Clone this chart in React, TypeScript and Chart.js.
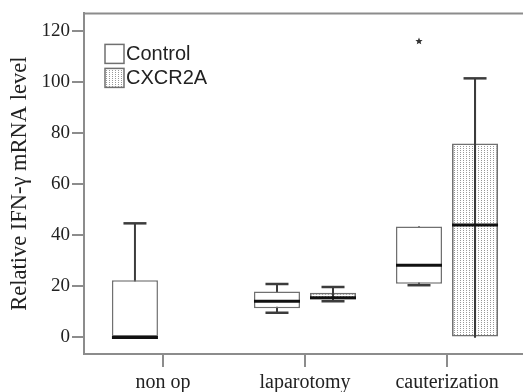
import { useEffect, useRef } from 'react';
import { Chart, registerables } from 'chart.js';

Chart.register(...registerables);

// ---- data ----
const categories = ['non op', 'laparotomy', 'cauterization'];
const categoryPositions = [1, 2, 3];
const seriesNames = ['Control', 'CXCR2A'];

const controlLower = [0, 9.6, 20.4];
const controlQ1 = [0, 11.4, 21.0];
const controlMedian = [0, 14.1, 28.2];
const controlQ3 = [22.3, 17.9, 43.4];
const controlUpper = [44.6, 20.9, 43.4];
const controlOutliers = [[], [], [115.8]];

const cxcrLower = [null, 14.1, 0];
const cxcrQ1 = [null, 14.8, 0];
const cxcrMedian = [null, 15.5, 43.9];
const cxcrQ3 = [null, 17.5, 75.8];
const cxcrUpper = [null, 19.7, 101.3];
const cxcrOutliers = [[], [], []];

const yTickValues = [0, 20, 40, 60, 80, 100, 120];

type Stats = {
  lower: (number | null)[];
  q1: (number | null)[];
  median: (number | null)[];
  q3: (number | null)[];
  upper: (number | null)[];
  outliers: number[][];
};

const seriesStats: Stats[] = [
  { lower: controlLower, q1: controlQ1, median: controlMedian, q3: controlQ3, upper: controlUpper, outliers: controlOutliers },
  { lower: cxcrLower, q1: cxcrQ1, median: cxcrMedian, q3: cxcrQ3, upper: cxcrUpper, outliers: cxcrOutliers },
];

const AXIS = '#8c8c8c';
const BOX_BORDER = '#707070';
const WHISKER = '#3c3c3c';
const TEXT = '#222222';

function makePattern(): CanvasPattern | string {
  const tile = document.createElement('canvas');
  tile.width = 3;
  tile.height = 2;
  const c = tile.getContext('2d');
  if (!c) return '#dddddd';
  c.fillStyle = 'rgba(110,110,110,0.7)';
  c.fillRect(1, 0, 1, 1);
  const main = document.createElement('canvas').getContext('2d');
  const p = main ? main.createPattern(tile, 'repeat') : null;
  return p || '#dddddd';
}

function drawStar(ctx: CanvasRenderingContext2D, cx: number, cy: number, r: number) {
  ctx.beginPath();
  for (let k = 0; k < 10; k++) {
    const rad = k % 2 === 0 ? r : r * 0.45;
    const a = -Math.PI / 2 + (k * Math.PI) / 5;
    const px = cx + rad * Math.cos(a);
    const py = cy + rad * Math.sin(a);
    if (k === 0) ctx.moveTo(px, py);
    else ctx.lineTo(px, py);
  }
  ctx.closePath();
  ctx.fill();
}

export default function App() {
  const ref = useRef<HTMLCanvasElement | null>(null);

  useEffect(() => {
    if (!ref.current) return;
    const pattern = makePattern();
    const fills = ['#ffffff', pattern];

    const boxPlugin = {
      id: 'boxExtras',
      beforeDraw(chart: any) {
        const { ctx, chartArea } = chart;
        ctx.save();
        ctx.strokeStyle = AXIS;
        ctx.lineWidth = 2;
        ctx.beginPath();
        ctx.moveTo(chartArea.left - 1, chartArea.top);
        ctx.lineTo(chartArea.right + 2, chartArea.top);
        ctx.stroke();
        ctx.restore();
      },
      beforeDatasetsDraw(chart: any) {
        const { ctx } = chart;
        const ys = chart.scales.y;
        ctx.save();
        seriesStats.forEach((s, di) => {
          const meta = chart.getDatasetMeta(di);
          meta.data.forEach((bar: any, i: number) => {
            const lo = s.lower[i], hi = s.upper[i];
            if (lo == null || hi == null) return;
            const x = bar.x;
            const capHalf = bar.width * 0.25;
            const yLo = ys.getPixelForValue(lo);
            const yHi = ys.getPixelForValue(hi);
            ctx.strokeStyle = WHISKER;
            ctx.lineWidth = 2;
            ctx.beginPath();
            ctx.moveTo(x, yLo);
            ctx.lineTo(x, yHi);
            ctx.stroke();
            ctx.lineWidth = 2.5;
            ctx.beginPath();
            if (hi !== s.q3[i]) {
              ctx.moveTo(x - capHalf, yHi);
              ctx.lineTo(x + capHalf, yHi);
            }
            if (lo !== s.q1[i]) {
              ctx.moveTo(x - capHalf, yLo);
              ctx.lineTo(x + capHalf, yLo);
            }
            ctx.stroke();
          });
        });
        ctx.restore();
      },
      afterDatasetsDraw(chart: any) {
        const { ctx, chartArea } = chart;
        const ys = chart.scales.y;
        ctx.save();
        seriesStats.forEach((s, di) => {
          const meta = chart.getDatasetMeta(di);
          meta.data.forEach((bar: any, i: number) => {
            const md = s.median[i];
            if (md == null) return;
            const x = bar.x;
            const half = bar.width / 2;
            const y = ys.getPixelForValue(md);
            if (di === 1) {
              // whisker visible through the patterned box
              const lo = s.lower[i], hi = s.upper[i];
              if (lo != null && hi != null) {
                ctx.strokeStyle = WHISKER;
                ctx.lineWidth = 2;
                ctx.beginPath();
                ctx.moveTo(x, ys.getPixelForValue(lo));
                ctx.lineTo(x, ys.getPixelForValue(hi));
                ctx.stroke();
              }
            }
            ctx.strokeStyle = '#111111';
            ctx.lineWidth = 3;
            ctx.beginPath();
            ctx.moveTo(x - half, y);
            ctx.lineTo(x + half, y);
            ctx.stroke();
            ctx.fillStyle = '#333333';
            s.outliers[i].forEach((v) => {
              drawStar(ctx, x, ys.getPixelForValue(v), 3.8);
            });
          });
        });

        // legend
        const lx = chartArea.left + 21;
        const ly = chartArea.top + 31;
        const size = 19;
        const rowGap = 24;
        ctx.font = '20px "Liberation Sans", Arial, sans-serif';
        ctx.textBaseline = 'middle';
        ctx.textAlign = 'left';
        chart.data.datasets.forEach((ds: any, k: number) => {
          const top = ly + k * rowGap;
          ctx.fillStyle = '#ffffff';
          ctx.fillRect(lx, top, size, size);
          ctx.fillStyle = fills[k];
          ctx.fillRect(lx, top, size, size);
          ctx.strokeStyle = BOX_BORDER;
          ctx.lineWidth = 1.5;
          ctx.strokeRect(lx, top, size, size);
          ctx.fillStyle = TEXT;
          ctx.fillText(ds.label, lx + size + 2, top + size / 2 + 1);
        });
        ctx.restore();
      },
    };

    const statsToData = (s: Stats) =>
      categoryPositions.map((x, i) => ({
        x,
        y: s.q1[i] == null || s.q3[i] == null ? null : [s.q1[i], s.q3[i]],
      }));

    const chart = new Chart(ref.current, {
      type: 'bar',
      data: {
        datasets: seriesNames.map((name, k) => ({
          label: name,
          data: statsToData(seriesStats[k]) as any,
          backgroundColor: fills[k] as any,
          borderColor: BOX_BORDER,
          borderWidth: 1.5,
          borderSkipped: false,
          categoryPercentage: 0.789,
          barPercentage: 0.821,
        })),
      },
      options: {
        responsive: false,
        animation: false,
        events: [],
        layout: { padding: { top: 12, left: 0, right: 0, bottom: 0 } },
        plugins: {
          legend: { display: false },
          tooltip: { enabled: false },
          title: { display: false },
        },
        scales: {
          x: {
            type: 'linear',
            offset: false,
            min: 0.444,
            max: 3.535,
            grid: {
              display: true,
              offset: false,
              drawOnChartArea: false,
              drawTicks: true,
              tickLength: 13,
              color: AXIS,
              lineWidth: 2,
            },
            border: { display: true, color: AXIS, width: 2 },
            afterBuildTicks: (scale: any) => {
              scale.ticks = categoryPositions.map((v) => ({ value: v }));
            },
            afterFit: (scale: any) => {
              scale.height = 38;
            },
            ticks: {
              autoSkip: false,
              maxRotation: 0,
              padding: 4,
              color: TEXT,
              font: { family: '"Liberation Serif", "Times New Roman", serif', size: 20 },
              callback: (value: any) => {
                const idx = categoryPositions.indexOf(Number(value));
                return idx >= 0 ? categories[idx] : '';
              },
            },
          },
          y: {
            type: 'linear',
            min: -6.5,
            max: 126.7,
            grid: {
              display: true,
              drawOnChartArea: false,
              drawTicks: true,
              tickLength: 12,
              color: AXIS,
              lineWidth: 2,
            },
            border: { display: true, color: AXIS, width: 2 },
            afterBuildTicks: (scale: any) => {
              scale.ticks = yTickValues.map((v) => ({ value: v }));
            },
            afterFit: (scale: any) => {
              scale.width = 84;
            },
            ticks: {
              padding: 2,
              color: TEXT,
              font: { family: '"Liberation Serif", "Times New Roman", serif', size: 19 },
            },
            title: {
              display: true,
              text: 'Relative IFN-γ mRNA level',
              color: TEXT,
              padding: { top: 7, bottom: 0 },
              font: { family: '"Liberation Serif", "Times New Roman", serif', size: 22.5, weight: 'normal' },
            },
          },
        },
      },
      plugins: [boxPlugin],
    });

    return () => chart.destroy();
  }, []);

  return (
    <div style={{ position: 'absolute', left: 0, top: 0, width: 523, height: 392, background: '#ffffff' }}>
      <canvas ref={ref} width={523} height={392} style={{ display: 'block' }} />
    </div>
  );
}
